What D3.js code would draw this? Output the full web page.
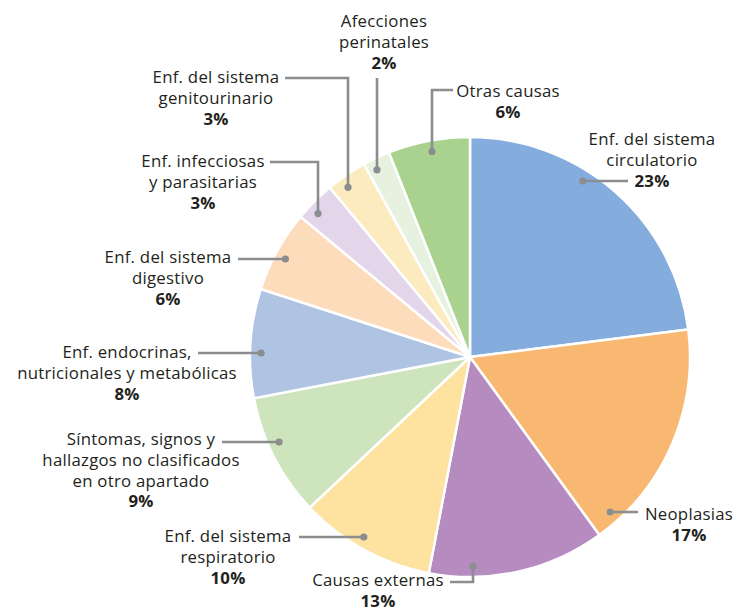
<!DOCTYPE html>
<html>
<head>
<meta charset="utf-8">
<script src="https://cdn.jsdelivr.net/npm/d3@7"></script>
<style>
  html, body { margin: 0; padding: 0; background: #fff; }
  svg text { font-family: "Open Sans", sans-serif; fill: #231f20; }
</style>
</head>
<body>
<div id="chart"></div>
<script>
// Causes of death, share of total (%)
const categories = [
    "Enf. del sistema circulatorio", "Neoplasias", "Causas externas",
    "Enf. del sistema respiratorio", "Síntomas, signos y hallazgos no clasificados en otro apartado",
    "Enf. endocrinas, nutricionales y metabólicas", "Enf. del sistema digestivo",
    "Enf. infecciosas y parasitarias", "Enf. del sistema genitourinario",
    "Afecciones perinatales", "Otras causas"
];
const shares = [23, 17, 13, 10, 9, 8, 6, 3, 3, 2, 6];
const colors = ["#84acdc", "#f9b872", "#b68cc0", "#fde2a0", "#cde4bd", "#afc4e2",
                "#fcdcbb", "#e3d6eb", "#fdebc0", "#e7f1df", "#a9d28f"];
const labelLines = [
    ["Enf. del sistema", "circulatorio"],
    ["Neoplasias"],
    ["Causas externas"],
    ["Enf. del sistema", "respiratorio"],
    ["Síntomas, signos y", "hallazgos no clasificados", "en otro apartado"],
    ["Enf. endocrinas,", "nutricionales y metabólicas"],
    ["Enf. del sistema", "digestivo"],
    ["Enf. infecciosas", "y parasitarias"],
    ["Enf. del sistema", "genitourinario"],
    ["Afecciones", "perinatales"],
    ["Otras causas"]
];

// label placement: text anchor point, leader path from the text, last segment direction
const labelLayout = [
    { x: 652, y: 145, pts: [[628, 181]], dir: "h" },
    { x: 689, y: 520, pts: [[638, 512]], dir: "h" },
    { x: 378, y: 586, pts: [[450, 582], [473, 582]], dir: "v" },
    { x: 228, y: 542, pts: [[299, 537]], dir: "h" },
    { x: 141, y: 445, pts: [[222, 442]], dir: "h" },
    { x: 127, y: 358, pts: [[198, 353]], dir: "h" },
    { x: 168, y: 263, pts: [[238, 259]], dir: "h" },
    { x: 203, y: 167, pts: [[270, 162], [318, 162]], dir: "v" },
    { x: 216, y: 83, pts: [[285, 78], [348, 78]], dir: "v" },
    { x: 384, y: 27, pts: [[377, 78]], dir: "v" },
    { x: 508, y: 97, pts: [[453, 90], [432, 90]], dir: "v" }
];

const width = 736, height = 612;
const cx = 470, cy = 357, radius = 220;
const dotRadius = radius * 0.95;
const lineHeight = 20.8;

const svg = d3.select("#chart").append("svg")
    .attr("width", width)
    .attr("height", height);

const pie = d3.pie().sort(null).value(d => d);
const arc = d3.arc().innerRadius(0).outerRadius(radius);

const g = svg.append("g").attr("transform", `translate(${cx},${cy})`);

g.selectAll("path.slice")
    .data(pie(shares))
    .enter().append("path")
    .attr("class", "slice")
    .attr("d", arc)
    .attr("fill", (d, i) => colors[i])
    .attr("stroke", "#fff")
    .attr("stroke-width", 2.5)
    .attr("stroke-linejoin", "round");

// leader lines end on a circle inside the pie
function leaderEnd(lay) {
    const last = lay.pts[lay.pts.length - 1];
    if (lay.dir === "h") {
        const dy = last[1] - cy;
        const dx = Math.sqrt(dotRadius * dotRadius - dy * dy);
        return [cx + Math.sign(last[0] - cx) * dx, last[1]];
    }
    const dx = last[0] - cx;
    const dy = Math.sqrt(dotRadius * dotRadius - dx * dx);
    return [last[0], cy + Math.sign(last[1] - cy) * dy];
}

const labels = svg.append("g");

labelLayout.forEach((lay, i) => {
    const end = leaderEnd(lay);
    const pts = lay.pts.concat([end]);
    labels.append("path")
        .attr("d", d3.line()(pts))
        .attr("fill", "none")
        .attr("stroke", "#8c8d8f")
        .attr("stroke-width", 2.6);
    labels.append("circle")
        .attr("cx", end[0])
        .attr("cy", end[1])
        .attr("r", 3.6)
        .attr("fill", "#8c8d8f");

    const text = labels.append("text")
        .attr("x", lay.x)
        .attr("y", lay.y)
        .attr("text-anchor", "middle")
        .style("font-size", "16.8px")
        .style("letter-spacing", "0.25px");
    labelLines[i].forEach((line, j) => {
        text.append("tspan")
            .attr("x", lay.x)
            .attr("dy", j === 0 ? 0 : lineHeight)
            .text(line);
    });
    text.append("tspan")
        .attr("x", lay.x)
        .attr("dy", lineHeight)
        .style("font-weight", "bold")
        .text(shares[i] + "%");
});
</script>
</body>
</html>
